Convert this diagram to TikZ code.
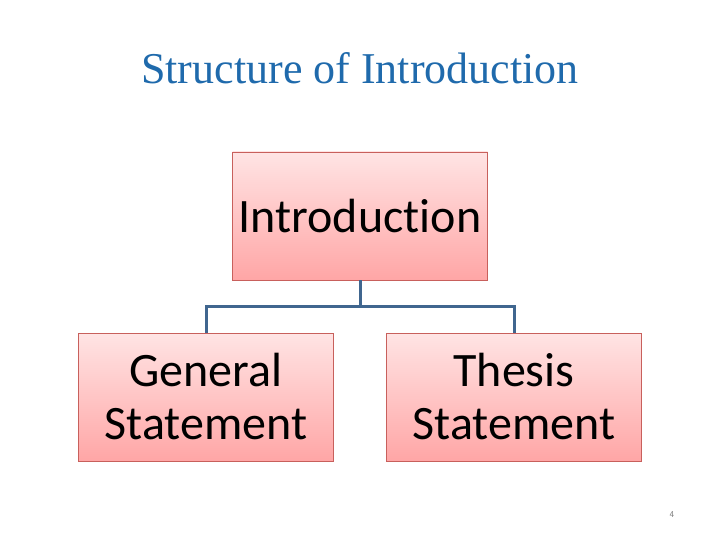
\documentclass[tikz,border=0pt]{standalone}
\usepackage{fontspec}
\setmainfont{Liberation Serif}
\newfontfamily\boxfont[Ligatures=NoCommon]{Carlito}
\usetikzlibrary{positioning}
\definecolor{titleblue}{HTML}{1F6AAC}
\definecolor{boxtop}{HTML}{FFE4E4}
\definecolor{boxbottom}{HTML}{FFA6A6}
\definecolor{boxborder}{HTML}{C8605C}
\definecolor{linkblue}{HTML}{40668F}

\begin{document}
\begin{tikzpicture}[
    x=1pt, y=-1pt,
    box/.style={rectangle, draw=boxborder, line width=0.8pt, top color=boxtop, bottom color=boxbottom,
        minimum width=255pt, minimum height=128pt, align=center, inner sep=0pt,
        font=\boxfont\fontsize{48}{53}\selectfont},
    link/.style={draw=linkblue, line width=3pt}
]
\useasboundingbox (0,0) rectangle (720,540);

% title
\node[text=titleblue, font=\fontsize{44}{52}\selectfont] (title) at (360,68) {Structure of Introduction};

% boxes
\node[box] (intro) at (360,216) {Introduction};
\node[box] (general) at (206,397) {General\\Statement};
\node[box] (thesis) at (514,397) {Thesis\\Statement};

% connectors
\coordinate (split) at (360,306);
\draw[link] (intro.south) -- (split);
\draw[link] (split) -| (general.north);
\draw[link] (split) -| (thesis.north);

% page number
\node[text=gray, font=\sffamily\fontsize{9}{11}\selectfont] (page) at (672,515) {4};
\end{tikzpicture}
\end{document}
